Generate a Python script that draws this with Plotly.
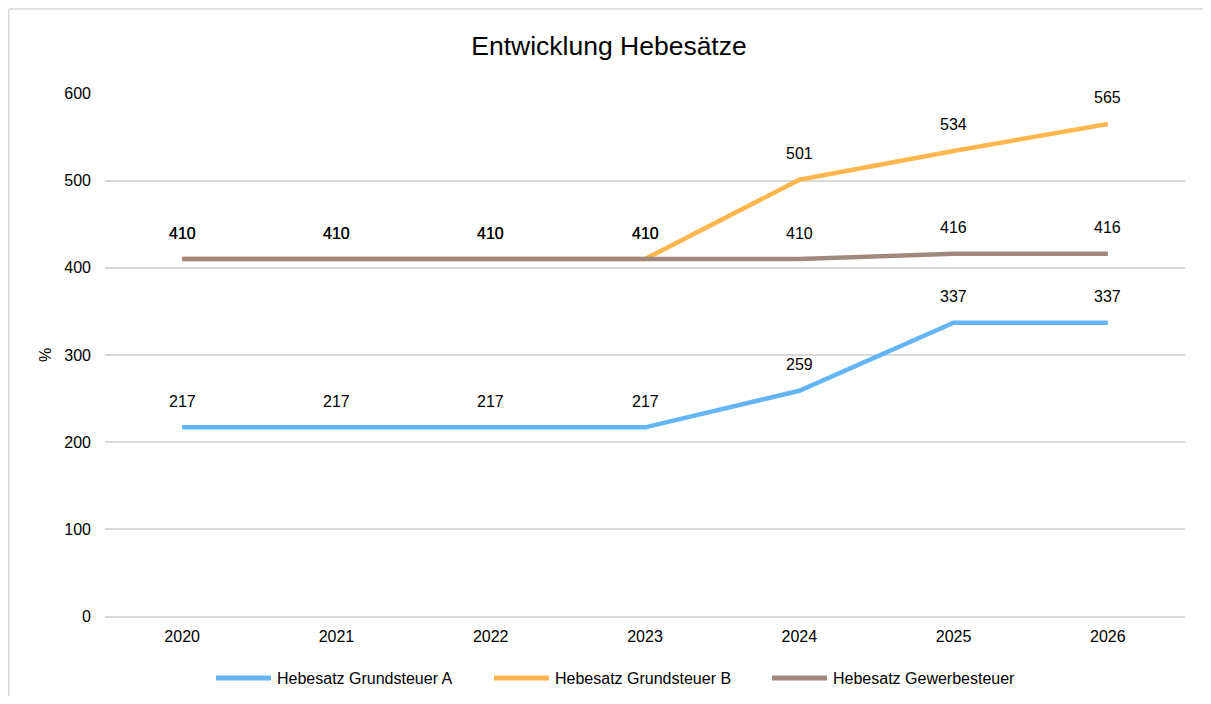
import plotly.graph_objects as go

years = ["2020", "2021", "2022", "2023", "2024", "2025", "2026"]
grundsteuer_a = [217, 217, 217, 217, 259, 337, 337]
grundsteuer_b = [410, 410, 410, 410, 501, 534, 565]
gewerbesteuer = [410, 410, 410, 410, 410, 416, 416]
series_names = ["Hebesatz Grundsteuer A", "Hebesatz Grundsteuer B", "Hebesatz Gewerbesteuer"]
colors = ["#64B5F6", "#FFB74D", "#A1887F"]
y_ticks = [0, 100, 200, 300, 400, 500, 600]

FONT = "Liberation Sans, Arial, sans-serif"
# page body has an 8px margin: all pixel positions below are reference - 8
W, H = 1195, 688
L, R, T, B = 97, 18, 85, 79
pw = W - L - R
ph = H - T - B

fig = go.Figure()
all_series = [grundsteuer_a, grundsteuer_b, gewerbesteuer]
for name, vals, col in zip(series_names, all_series, colors):
    fig.add_trace(go.Scatter(x=years, y=vals, name=name, mode="lines",
                             line=dict(color=col, width=4.5), showlegend=False,
                             hoverinfo="x+y+name"))
    for i, yv in enumerate(vals):
        fig.add_annotation(x=i, y=yv, text=str(yv), showarrow=False,
                           yshift=26, font=dict(family=FONT, size=16, color="#000000"))

# custom legend
leg_y = (ph - (670 - T)) / ph
leg_x = [208, 486, 764]
for name, col, lx in zip(series_names, colors, leg_x):
    x0 = (lx - L) / pw
    x1 = (lx + 55 - L) / pw
    fig.add_shape(type="line", xref="paper", yref="paper", x0=x0, x1=x1, y0=leg_y, y1=leg_y,
                  line=dict(color=col, width=5))
    fig.add_annotation(xref="paper", yref="paper", x=(lx + 59 - L) / pw, y=leg_y,
                       xanchor="left", yanchor="middle", text=name, showarrow=False,
                       font=dict(family=FONT, size=16, color="#000000"))

# outer border (left and top edges only are visible)
bx = (0.75 - L) / pw
by = (ph - (1 - T)) / ph
fig.add_shape(type="line", xref="paper", yref="paper", x0=bx, x1=bx, y0=-0.5, y1=by,
              line=dict(color="#D9D9D9", width=1.5), layer="below")
fig.add_shape(type="line", xref="paper", yref="paper", x0=bx, x1=2.0, y0=by, y1=by,
              line=dict(color="#D9D9D9", width=1.5), layer="below")

fig.update_layout(
    width=W, height=H,
    margin=dict(l=L, r=R, t=T, b=B),
    paper_bgcolor="white", plot_bgcolor="white",
    title=dict(text="Entwicklung Hebesätze", x=601 / W, xanchor="center", y=1 - 38 / H,
               yanchor="middle", font=dict(family=FONT, size=26.5, color="#000000")),
    font=dict(family=FONT, size=16, color="#000000"),
    showlegend=False,
)
fig.update_xaxes(type="category", range=[-0.5, 6.5], showgrid=False, showline=False,
                 zeroline=False, ticks="", ticklabelstandoff=8,
                 tickfont=dict(size=16, color="#000000"))
fig.update_yaxes(range=[-0.5, 600.5], tickvals=y_ticks, showgrid=True, gridcolor="#D9D9D9",
                 gridwidth=1.5, zeroline=True, zerolinecolor="#D9D9D9", zerolinewidth=1.5,
                 showline=False, ticks="",
                 ticklabelstandoff=13,
                 tickfont=dict(size=16, color="#000000"),
                 title=dict(text="%", font=dict(size=16, color="#000000"), standoff=8))

fig.write_html("out.html")
